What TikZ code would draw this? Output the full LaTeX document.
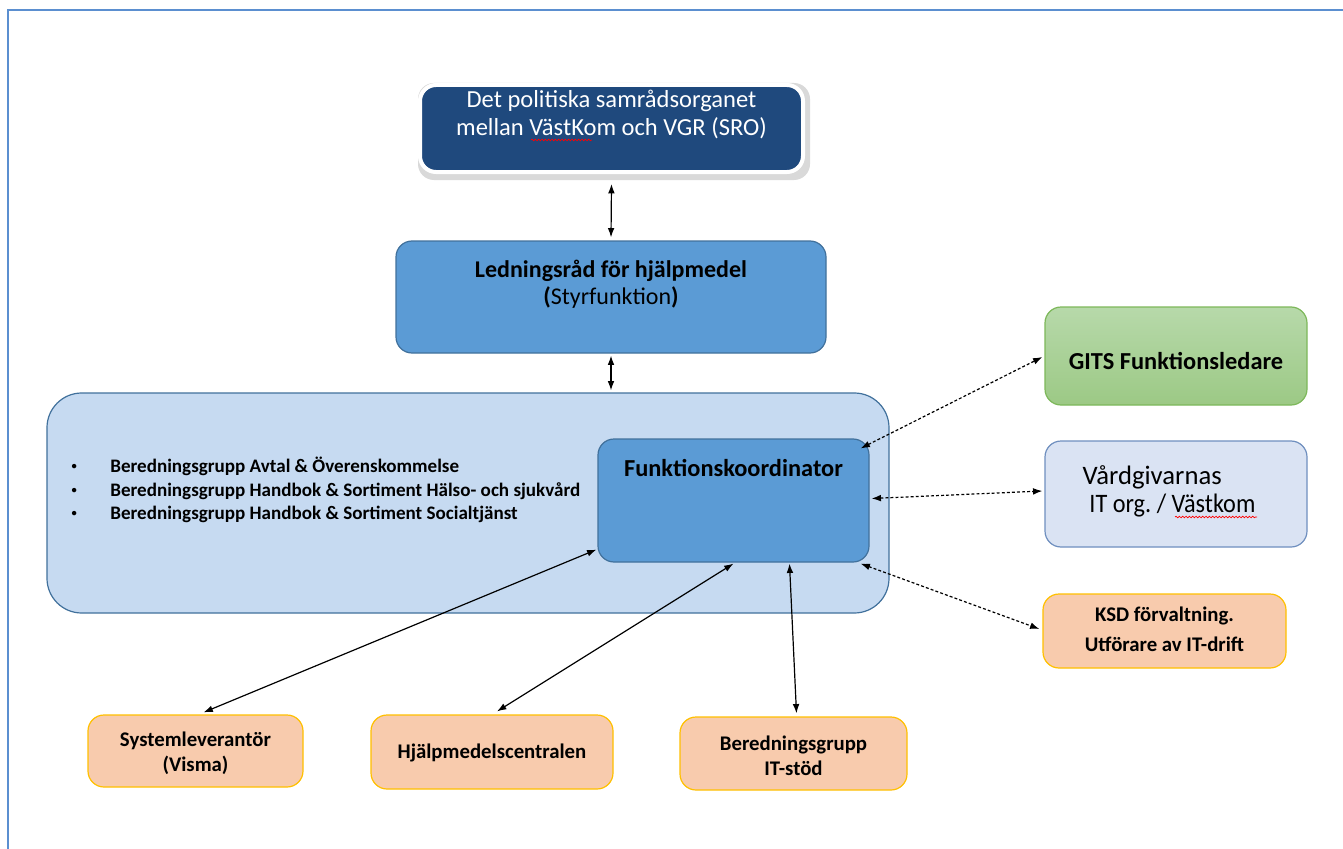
\documentclass[tikz,border=0pt]{standalone}
\usepackage{fontspec}
\setmainfont{Carlito}
\usetikzlibrary{arrows.meta,calc,decorations.pathmorphing}
\definecolor{frameblue}{HTML}{5B8FD0}
\definecolor{sroblue}{HTML}{1F497D}
\definecolor{midblue}{HTML}{5B9BD5}
\definecolor{edgeblue}{HTML}{41719C}
\definecolor{paleblue}{HTML}{C6DAF1}
\definecolor{vardblue}{HTML}{DAE3F3}
\definecolor{vardedge}{HTML}{6F8FBF}
\definecolor{gitstop}{HTML}{B7D9AA}
\definecolor{gitsbot}{HTML}{9CC985}
\definecolor{gitsedge}{HTML}{7DB85A}
\definecolor{orangefill}{HTML}{F8CBAD}
\definecolor{orangeedge}{HTML}{FFC000}
\tikzset{
  box/.style={rounded corners=12pt, line width=0.9pt, inner sep=0pt},
  bluebox/.style={box, fill=midblue, draw=edgeblue},
  orangebox/.style={box, fill=orangefill, draw=orangeedge},
  conn/.style={line width=0.9pt, {Latex[length=7pt,width=5pt]}-{Latex[length=7pt,width=5pt]}},
  dconn/.style={conn, dash pattern=on 2.2pt off 1.6pt},
  wavy/.style={draw=red, line width=0.5pt, decorate, decoration={snake, amplitude=0.6pt, segment length=2.5pt}},
  smallbold/.style={font=\fontsize{15.6}{18.8}\selectfont\bfseries, align=center},
}
\newcommand{\smallbul}{\makebox[29pt][l]{\raisebox{0.15em}{\scalebox{0.55}{\textbullet}}}}
\frenchspacing
\begin{document}
\begin{tikzpicture}[x=0.75pt, y=-0.75pt]
\useasboundingbox (0,0) rectangle (1343,849);
\fill[white] (0,0) rectangle (1343,849);
% frame
\draw[frameblue, line width=1.8pt] (8,849) -- (8,10) -- (1343,10);

% SRO
\fill[gray!30, rounded corners=12pt] (418,83) rectangle (810,180);
\node[box, fill=sroblue, draw=white, line width=3pt, minimum width=287.25pt, minimum height=65.25pt] (sro) at (611.5,128.5) {};
\node[text=white, align=center, font=\fontsize{18.4}{21}\selectfont] (srotext) at (611.5,115) {Det politiska samrådsorganet\\mellan VästKom och VGR (SRO)};
\draw[wavy] (531,140) -- (592,140);

% Ledningsrad
\node[bluebox, minimum width=322.5pt, minimum height=84pt] (led) at (611,297) {};
\node[align=center, font=\fontsize{18}{20.5}\selectfont] (ledtext) at (611,284) {\textbf{Ledningsråd för hjälpmedel}\\\textbf{(}Styrfunktion\textbf{)}};

% big box
\node[box, rounded corners=26pt, fill=paleblue, draw=edgeblue, minimum width=631.5pt, minimum height=165pt] (big) at (468,503) {};
\node[anchor=west, font=\fontsize{14.3}{17.6}\selectfont\bfseries, align=left] (bullets) at (67,490) {%
  \smallbul Beredningsgrupp Avtal \& Överenskommelse\\
  \smallbul Beredningsgrupp Handbok \& Sortiment Hälso- och sjukvård\\
  \smallbul Beredningsgrupp Handbok \& Sortiment Socialtjänst};

% Funktionskoordinator
\node[bluebox, minimum width=203.25pt, minimum height=92.25pt] (funk) at (733.5,500.5) {};
\node[font=\fontsize{18.3}{20}\selectfont\bfseries] (funktext) at (733.5,468) {Funktionskoordinator};

% right column
\node[box, top color=gitstop, bottom color=gitsbot, draw=gitsedge, minimum width=196.5pt, minimum height=73.5pt] (gits) at (1176,356) {};
\node[font=\fontsize{18.3}{20}\selectfont\bfseries] (gitstext) at (1176,361) {GITS Funktionsledare};
\node[box, fill=vardblue, draw=vardedge, minimum width=196.5pt, minimum height=79.5pt] (vard) at (1176,494) {};
\node[anchor=west, font=\fontsize{20}{21}\selectfont, align=left] (vardtext) at (1078,491) {Vårdgivarnas\\\hspace*{5pt}\scalebox{0.91}[1]{IT org. / Västkom}};
\draw[wavy] (1175,517) -- (1257,517);
\node[orangebox, minimum width=182.25pt, minimum height=55.5pt] (ksd) at (1164.5,631) {};
\node[font=\fontsize{15.6}{22.5}\selectfont\bfseries, align=center] (ksdtext) at (1164.5,629) {KSD förvaltning.\\Utförare av IT-drift};

% bottom row
\node[orangebox, minimum width=161.25pt, minimum height=54pt] (sysl) at (195.5,751) {};
\node[smallbold] (sysltext) at (195.5,753) {Systemleverantör\\(Visma)};
\node[orangebox, minimum width=181.5pt, minimum height=55.5pt] (hjalp) at (492,752) {};
\node[smallbold] (hjalptext) at (492,753) {Hjälpmedelscentralen};
\node[orangebox, minimum width=170.25pt, minimum height=54.75pt] (itstod) at (793.5,753.5) {};
\node[smallbold] (itstodtext) at (793.5,756) {Beredningsgrupp\\IT-stöd};

% connectors
\draw[conn] ($(sro.south)+(0,10)$) -- ($(led.north)+(0,-3)$);
\draw[conn] ($(led.south)+(0,2)$) -- ($(big.north)+(143,-2)$);
\draw[conn] ($(funk.south west)+(-1,-13)$) -- ($(sysl.north)+(8,-2)$);
\draw[conn] ($(funk.south)+(0,1)$) -- ($(hjalp.north)+(5,-3)$);
\draw[conn] ($(funk.south)+(56,1)$) -- ($(itstod.north)+(3,-3)$);
\draw[dconn] ($(funk.north east)+(-9,10)$) -- ($(gits.west)+(-2,1)$);
\draw[dconn] ($(funk.east)+(2,-2)$) -- ($(vard.west)+(-2,-3)$);
\draw[dconn] ($(funk.south east)+(-9,1)$) -- ($(ksd.west)+(-3,-2)$);
\end{tikzpicture}
\end{document}
